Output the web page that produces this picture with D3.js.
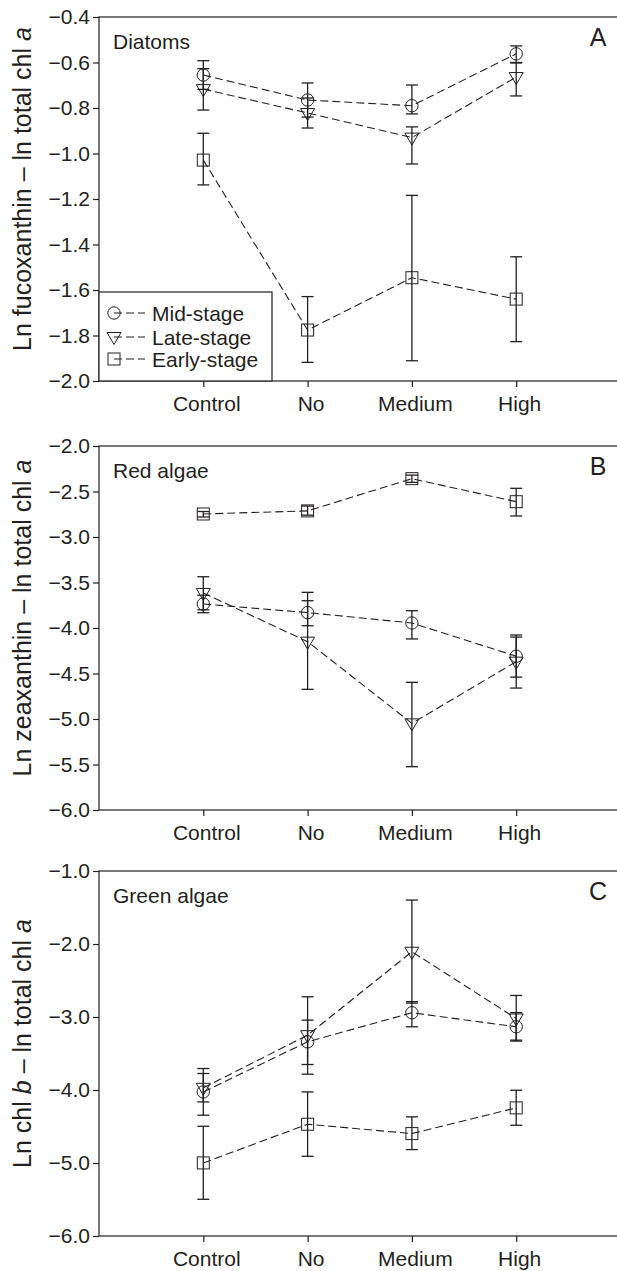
<!DOCTYPE html>
<html>
<head>
<meta charset="utf-8">
<script src="https://cdn.jsdelivr.net/npm/d3@7"></script>
<style>
  body { margin: 0; background: #fff; }
  text { font-family: "Liberation Sans", Arial, Helvetica, sans-serif; fill: #231f20; }
</style>
</head>
<body>
<script>
// categories and stages
const categories = ["Control", "No", "Medium", "High"];
const stages = ["Mid-stage", "Late-stage", "Early-stage"];

// A: diatoms (mean, lower and upper end of error bar)
const diatomsMid = [-0.655, -0.765, -0.790, -0.562];
const diatomsMidLow = [-0.718, -0.840, -0.826, -0.602];
const diatomsMidHigh = [-0.592, -0.690, -0.699, -0.527];
const diatomsLate = [-0.717, -0.822, -0.930, -0.664];
const diatomsLateLow = [-0.809, -0.888, -1.046, -0.747];
const diatomsLateHigh = [-0.627, -0.756, -0.883, -0.600];
const diatomsEarly = [-1.029, -1.776, -1.546, -1.640];
const diatomsEarlyLow = [-1.138, -1.918, -1.911, -1.827];
const diatomsEarlyHigh = [-0.911, -1.629, -1.184, -1.454];

// B: red algae
const redMid = [-3.736, -3.831, -3.945, -4.310];
const redMidLow = [-3.832, -3.975, -4.120, -4.540];
const redMidHigh = [-3.640, -3.608, -3.810, -4.077];
const redLate = [-3.615, -4.150, -5.048, -4.370];
const redLateLow = [-3.800, -4.674, -5.524, -4.660];
const redLateHigh = [-3.437, -3.700, -4.597, -4.100];
const redEarly = [-2.747, -2.713, -2.359, -2.612];
const redEarlyLow = [-2.780, -2.760, -2.400, -2.769];
const redEarlyHigh = [-2.720, -2.660, -2.320, -2.465];

// C: green algae
const greenMid = [-4.026, -3.340, -2.942, -3.134];
const greenMidLow = [-4.345, -3.651, -3.134, -3.330];
const greenMidHigh = [-3.706, -3.043, -2.790, -2.940];
const greenLate = [-3.970, -3.249, -2.106, -3.020];
const greenLateLow = [-4.163, -3.783, -2.810, -3.317];
const greenLateHigh = [-3.774, -2.723, -1.398, -2.705];
const greenEarly = [-4.999, -4.469, -4.597, -4.245];
const greenEarlyLow = [-5.497, -4.908, -4.816, -4.483];
const greenEarlyHigh = [-4.497, -4.026, -4.368, -4.003];

// tick values
const ticksA = [-0.4, -0.6, -0.8, -1.0, -1.2, -1.4, -1.6, -1.8, -2.0];
const ticksB = [-2.0, -2.5, -3.0, -3.5, -4.0, -4.5, -5.0, -5.5, -6.0];
const ticksC = [-1.0, -2.0, -3.0, -4.0, -5.0, -6.0];

const W = 617, H = 1271;
const LEFT = 99, RIGHT = 620.5;
const INK = "#231f20";
const FONT = 21;

const svg = d3.select("body").append("svg")
  .attr("width", W)
  .attr("height", H);

// marker shapes, drawn around 0,0
function marker(sel, stage) {
  if (stage === 0) {
    sel.append("circle").attr("r", 6.2)
      .attr("fill", "none").attr("stroke", INK).attr("stroke-width", 1);
  } else if (stage === 1) {
    sel.append("path").attr("d", "M-7,-4.5L7,-4.5L0,7.5Z")
      .attr("fill", "none").attr("stroke", INK).attr("stroke-width", 1);
  } else {
    sel.append("rect").attr("x", -6).attr("y", -6).attr("width", 12).attr("height", 12)
      .attr("fill", "none").attr("stroke", INK).attr("stroke-width", 1);
  }
}

function drawPanel(p) {
  const g = svg.append("g");

  const x = d3.scalePoint()
    .domain(categories)
    .range([LEFT, RIGHT])
    .padding(1);

  const y = d3.scaleLinear()
    .domain([d3.min(p.ticks), d3.max(p.ticks)])
    .range([p.bottom, p.top]);

  // frame (right side falls outside the picture)
  g.append("rect")
    .attr("x", LEFT).attr("y", p.top)
    .attr("width", RIGHT - LEFT).attr("height", p.bottom - p.top)
    .attr("fill", "none").attr("stroke", INK).attr("stroke-width", 1.2);

  // y axis
  const yAxisGroup = g.append("g")
    .attr("transform", `translate(${LEFT},0)`)
    .call(d3.axisLeft(y).tickValues(p.ticks).tickFormat(d3.format(".1f")).tickSize(6).tickPadding(3));
  yAxisGroup.select(".domain").remove();
  yAxisGroup.selectAll("line").attr("stroke", INK).attr("stroke-width", 1.2);
  yAxisGroup.selectAll("text").attr("font-size", FONT).attr("fill", INK)
    .attr("font-family", null);

  // x axis
  const xAxisGroup = g.append("g")
    .attr("transform", `translate(0,${p.bottom})`)
    .call(d3.axisBottom(x).tickSize(6));
  xAxisGroup.select(".domain").remove();
  xAxisGroup.selectAll("line").attr("stroke", INK).attr("stroke-width", 1.2);
  xAxisGroup.selectAll("text").attr("font-size", FONT).attr("fill", INK)
    .attr("font-family", null)
    .attr("y", 30).attr("dy", 0).attr("dx", 3);

  // y label
  const yl = g.append("text")
    .attr("transform", `translate(31,${(p.top + p.bottom) / 2 - 10}) rotate(-90)`)
    .attr("text-anchor", "middle")
    .attr("font-size", 25);
  p.ylabel.forEach(part => {
    yl.append("tspan").text(part[0]).attr("font-style", part[1] ? "italic" : null);
  });

  // panel name and letter
  g.append("text").attr("x", 113).attr("y", p.top + 32)
    .attr("font-size", FONT).text(p.name);
  g.append("text").attr("x", 598).attr("y", p.top + 29)
    .attr("text-anchor", "middle").attr("font-size", 25).text(p.letter);

  // series
  p.series.forEach((s, si) => {
    const pts = categories.map((c, i) => ({ c, v: s.mean[i], lo: s.low[i], hi: s.high[i] }));

    g.append("path")
      .datum(pts)
      .attr("d", d3.line().x(d => x(d.c)).y(d => y(d.v)))
      .attr("fill", "none")
      .attr("stroke", INK)
      .attr("stroke-width", 1.1)
      .attr("stroke-dasharray", "8,4");

    const eb = g.append("g").selectAll("g").data(pts).enter().append("g");
    eb.append("line")
      .attr("x1", d => x(d.c)).attr("x2", d => x(d.c))
      .attr("y1", d => y(d.lo)).attr("y2", d => y(d.hi))
      .attr("stroke", INK).attr("stroke-width", 1.3);
    eb.append("line")
      .attr("x1", d => x(d.c) - 6).attr("x2", d => x(d.c) + 6)
      .attr("y1", d => y(d.lo)).attr("y2", d => y(d.lo))
      .attr("stroke", INK).attr("stroke-width", 1.3);
    eb.append("line")
      .attr("x1", d => x(d.c) - 6).attr("x2", d => x(d.c) + 6)
      .attr("y1", d => y(d.hi)).attr("y2", d => y(d.hi))
      .attr("stroke", INK).attr("stroke-width", 1.3);

    g.append("g").selectAll("g").data(pts).enter().append("g")
      .attr("transform", d => `translate(${x(d.c)},${y(d.v)})`)
      .each(function () { marker(d3.select(this), si); });
  });

  return { g, x, y };
}

const panelA = drawPanel({
  top: 17, bottom: 381, ticks: ticksA, name: "Diatoms", letter: "A",
  ylabel: [["Ln fucoxanthin – ln total chl ", false], ["a", true]],
  series: [
    { mean: diatomsMid, low: diatomsMidLow, high: diatomsMidHigh },
    { mean: diatomsLate, low: diatomsLateLow, high: diatomsLateHigh },
    { mean: diatomsEarly, low: diatomsEarlyLow, high: diatomsEarlyHigh }
  ]
});

drawPanel({
  top: 446, bottom: 810, ticks: ticksB, name: "Red algae", letter: "B",
  ylabel: [["Ln zeaxanthin – ln total chl ", false], ["a", true]],
  series: [
    { mean: redMid, low: redMidLow, high: redMidHigh },
    { mean: redLate, low: redLateLow, high: redLateHigh },
    { mean: redEarly, low: redEarlyLow, high: redEarlyHigh }
  ]
});

drawPanel({
  top: 871, bottom: 1236, ticks: ticksC, name: "Green algae", letter: "C",
  ylabel: [["Ln chl ", false], ["b", true], [" – ln total chl ", false], ["a", true]],
  series: [
    { mean: greenMid, low: greenMidLow, high: greenMidHigh },
    { mean: greenLate, low: greenLateLow, high: greenLateHigh },
    { mean: greenEarly, low: greenEarlyLow, high: greenEarlyHigh }
  ]
});

// legend in panel A, lower left corner
const legend = panelA.g.append("g");
legend.append("rect")
  .attr("x", LEFT).attr("y", 292)
  .attr("width", 173).attr("height", 381 - 292)
  .attr("fill", "#fff").attr("stroke", INK).attr("stroke-width", 1.2);
const rowY = [313, 337, 359];
stages.forEach((s, i) => {
  const row = legend.append("g").attr("transform", `translate(114,${rowY[i]})`);
  row.append("line")
    .attr("x1", 0).attr("x2", 31).attr("y1", 0).attr("y2", 0)
    .attr("stroke", INK).attr("stroke-width", 1).attr("stroke-dasharray", "8,4");
  marker(row, i);
  row.append("text").attr("x", 38).attr("y", 7.5)
    .attr("font-size", FONT).text(s);
});
</script>
</body>
</html>
